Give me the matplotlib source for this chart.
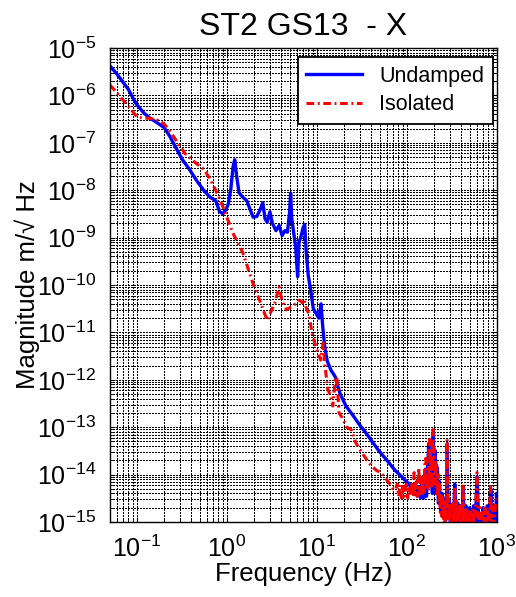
import matplotlib
matplotlib.use("Agg")
import matplotlib.pyplot as plt
from matplotlib.ticker import LogLocator, NullFormatter, FuncFormatter
import numpy as np

plt.rcParams["font.family"] = ["Liberation Sans", "DejaVu Sans"]
plt.rcParams["mathtext.fontset"] = "custom"
plt.rcParams["mathtext.rm"] = "Liberation Sans"

# Undamped (blue), magnitude in m/sqrt(Hz)
undamped_freq = [
    0.05, 0.06, 0.07, 0.08, 0.09, 0.1, 0.12, 0.14, 0.17, 0.2, 0.23, 0.27,
    0.32, 0.38, 0.46, 0.55, 0.65, 0.75, 0.83, 0.9, 0.97, 1.03, 1.1, 1.17,
    1.22, 1.28, 1.36, 1.5, 1.66, 1.8, 1.95, 2.15, 2.35, 2.5, 2.65, 2.8,
    3.0, 3.2, 3.5, 3.8, 4.1, 4.4, 4.7, 4.95, 5.1, 5.25, 5.5, 5.8, 6.1,
    6.3, 6.6, 7.0, 7.3, 7.6, 8.0, 8.5, 9.1, 9.8, 10.5, 11.1, 11.6, 12.2,
    13.0, 14.3, 16.0, 18, 21, 25, 30, 35, 41, 48, 60, 73, 88, 106,
    112, 118, 124, 130, 136, 142, 148, 154, 160, 165, 170, 175, 180, 186,
    192, 196, 200, 206, 212, 218, 224, 230, 238, 246, 254, 262, 270, 276,
    281, 286, 295, 304, 315, 328, 340, 352, 366, 380, 395, 410, 422, 435,
    455, 475, 495, 520, 550, 575, 602, 625, 660, 700, 740, 780, 830, 855,
    890, 930, 965, 990, 1000,
]
undamped_mag = [
    4.2e-6, 2.8e-6, 1.9e-6, 1.35e-6, 8.9e-7, 6.3e-7, 4.2e-7, 3.3e-7, 2.6e-7,
    2.1e-7, 1.4e-7, 7.9e-8, 4.4e-8, 2.8e-8, 1.6e-8, 1.0e-8, 7.1e-9, 6.0e-9,
    3.5e-9, 3.2e-9, 3.8e-9, 5.0e-9, 1.0e-8, 3.2e-8, 4.4e-8, 2.0e-8, 8.9e-9,
    7.1e-9, 6.0e-9, 4.0e-9, 2.7e-9, 2.8e-9, 4.0e-9, 5.4e-9, 2.5e-9, 2.1e-9,
    3.5e-9, 2.0e-9, 1.4e-9, 1.8e-9, 1.1e-9, 1.4e-9, 1.3e-9, 3.2e-9, 8.7e-9,
    2.5e-9, 1.3e-9, 6.3e-10, 1.5e-10, 7.9e-10, 1.0e-9, 1.6e-9, 1.9e-9,
    5.0e-10, 1.6e-10, 7.9e-11, 3.2e-11, 2.5e-11, 2.0e-11, 4.0e-11, 1.3e-11,
    5.0e-12, 2.5e-12, 1.6e-12, 1.15e-12, 5.2e-13, 2.8e-13, 1.8e-13, 1.1e-13,
    7.6e-14, 5.0e-14, 3.3e-14, 2.0e-14, 1.26e-14, 8.9e-15, 6.3e-15,
    5.0e-15, 4.0e-15, 4.5e-15, 3.5e-15, 5.6e-15, 3.2e-15, 6.3e-15, 3.2e-15,
    1.3e-14, 3.5e-15, 1.6e-14, 4.5e-14, 6.3e-15, 2.0e-14, 4.0e-15, 7.9e-14,
    8.9e-15, 3.2e-14, 4.0e-15, 1.4e-14, 2.5e-15, 7.1e-15, 1.6e-15, 4.0e-15,
    1.3e-15, 3.2e-15, 1.1e-15, 2.5e-15, 4.5e-14, 1.3e-15, 2.8e-15, 1.0e-15,
    2.2e-15, 9.0e-16, 6.3e-15, 1.0e-15, 2.5e-15, 9.0e-16, 2.2e-15, 9.0e-16,
    5.6e-15, 9.0e-16, 2.2e-15, 9.0e-16, 2.0e-15, 9.0e-16, 2.2e-15, 9.0e-16,
    9.0e-15, 1.3e-15, 9.0e-16, 2.0e-15, 9.0e-16, 2.2e-15, 9.0e-16, 5.0e-15,
    9.0e-16, 2.2e-15, 9.0e-16, 4.0e-15, 2.5e-15,
]

# Isolated (red)
isolated_freq = [
    0.05, 0.06, 0.07, 0.08, 0.09, 0.1, 0.12, 0.14, 0.17, 0.2, 0.23, 0.27,
    0.34, 0.4, 0.47, 0.55, 0.64, 0.75, 0.9, 1.16, 1.5, 1.94, 2.3, 2.8, 3.1,
    3.4, 3.8, 4.1, 4.6, 5.2, 5.8, 6.4, 6.9, 7.2, 7.5, 8.1, 8.8, 9.7, 10.4,
    11.0, 11.7, 12.2, 13.2, 14.3, 15.0, 16.0, 16.6, 17.6, 18.8, 21.5, 24,
    27, 32, 38, 45, 52, 62, 70,
    75, 78, 81, 84, 87, 90, 94, 98, 102, 106, 110, 114, 118, 120, 123, 127,
    131, 135, 139, 143, 147, 151, 155, 158, 162, 165, 169, 172, 175, 178,
    181, 185, 189, 192, 195, 198, 202, 206, 210, 214, 218, 222, 226, 230,
    235, 240, 245, 250, 255, 260, 265, 270, 275, 280, 284, 289, 294, 300,
    306, 312, 318, 325, 332, 340, 347, 355, 362, 370, 378, 386, 395, 405,
    415, 420, 428, 438, 448, 460, 472, 485, 500, 515, 530, 545, 560, 580,
    600, 615, 630, 650, 670, 690, 710, 735, 760, 790, 820, 850, 880, 910,
    940, 970, 1000,
]
isolated_mag = [
    1.66e-6, 1.12e-6, 7.9e-7, 6.0e-7, 4.5e-7, 3.5e-7, 3.3e-7, 3.3e-7, 3.0e-7,
    2.5e-7, 1.8e-7, 1.15e-7, 6.0e-8, 4.5e-8, 3.5e-8, 2.8e-8, 1.8e-8, 1.0e-8,
    4.5e-9, 1.26e-9, 4.8e-10, 1.1e-10, 4.8e-11, 1.8e-11, 2.8e-11, 4.2e-11,
    9.1e-11, 4.5e-11, 3.0e-11, 3.5e-11, 4.0e-11, 4.8e-11, 4.2e-11, 5.0e-11,
    3.5e-11, 2.5e-11, 1.0e-11, 5.0e-12, 3.5e-12, 2.6e-12, 6.0e-12, 2.2e-12,
    6.3e-13, 4.4e-13, 2.8e-13, 1.0e-12, 1.15e-12, 2.0e-13, 1.66e-13, 1.0e-13,
    8.9e-14, 4.7e-14, 2.8e-14, 1.74e-14, 1.26e-14, 1.07e-14, 7.1e-15, 5.0e-15,
    4.8e-15, 6.3e-15, 3.5e-15, 6.0e-15, 3.2e-15, 5.6e-15, 3.5e-15, 6.3e-15,
    3.2e-15, 5.6e-15, 3.5e-15, 6.3e-15, 3.5e-15, 1.1e-14, 4.0e-15, 7.1e-15,
    3.5e-15, 1.4e-14, 4.0e-15, 8.9e-15, 3.5e-15, 1.0e-14, 4.0e-15, 1.6e-14,
    2.2e-14, 5.0e-15, 1.1e-14, 4.5e-15, 3.5e-14, 5.6e-14, 8.9e-15, 2.5e-14,
    5.0e-15, 5.0e-14, 8.9e-14, 1.0e-14, 3.5e-14, 6.3e-15, 2.0e-14, 1.6e-14,
    3.5e-15, 1.0e-14, 2.5e-15, 6.3e-15, 1.6e-15, 4.0e-15, 1.3e-15, 3.2e-15,
    1.1e-15, 2.8e-15, 1.0e-15, 2.5e-15, 1.2e-15, 5.6e-14, 1.5e-15, 3.2e-15,
    9.0e-16, 2.5e-15, 9.0e-16, 2.0e-15, 9.0e-16, 2.5e-15, 9.0e-16, 5.6e-15,
    1.0e-15, 2.8e-15, 9.0e-16, 2.0e-15, 9.0e-16, 2.5e-15, 9.0e-16, 2.0e-15,
    9.0e-16, 6.3e-15, 9.0e-16, 2.0e-15, 9.0e-16, 2.0e-15, 9.0e-16, 1.8e-15,
    9.0e-16, 1.6e-15, 9.0e-16, 1.8e-15, 9.0e-16, 2.0e-15, 1.1e-14, 1.5e-15,
    9.0e-16, 2.0e-15, 9.0e-16, 1.6e-15, 9.0e-16, 2.0e-15, 9.0e-16, 1.8e-15,
    9.0e-16, 5.6e-15, 9.0e-16, 2.0e-15, 9.0e-16, 2.5e-15, 3.2e-15,
]


def pow10_label(v, pos):
    e = int(round(np.log10(v)))
    return r"$\mathregular{10^{%d}}$" % e


fig = plt.figure(figsize=(5.16, 5.97), dpi=100)
ax = fig.add_axes([0.213, 0.1256, 0.75, 0.794])

ax.loglog(undamped_freq, undamped_mag, color="blue", lw=2.4, label="Undamped")
ax.loglog(isolated_freq, isolated_mag, color="red", lw=2.2,
          ls=(0, (2.5, 1.2, 0.6, 1.2)), label="Isolated")

ax.set_xlim(0.05, 1000)
ax.set_ylim(1e-15, 1e-5)

ax.xaxis.set_major_locator(LogLocator(base=10, numticks=20))
ax.yaxis.set_major_locator(LogLocator(base=10, numticks=20))
ax.xaxis.set_minor_locator(LogLocator(base=10, subs=range(2, 10), numticks=50))
ax.yaxis.set_minor_locator(LogLocator(base=10, subs=range(2, 10), numticks=50))
ax.xaxis.set_major_formatter(FuncFormatter(pow10_label))
ax.yaxis.set_major_formatter(FuncFormatter(pow10_label))
ax.xaxis.set_minor_formatter(NullFormatter())
ax.yaxis.set_minor_formatter(NullFormatter())

ax.grid(True, which="both", color="black", ls=(0, (1, 1)), lw=0.8,
        antialiased=False)
ax.tick_params(which="both", direction="in", top=True, right=True)
ax.tick_params(axis="both", labelsize=18)
ax.tick_params(axis="y", pad=10)
ax.tick_params(axis="x", pad=10)
for s in ax.spines.values():
    s.set_linewidth(1.0)

ax.set_title("ST2 GS13  - X", fontsize=23, pad=9)
ax.set_xlabel("Frequency (Hz)", fontsize=18.5, labelpad=0)
ax.set_ylabel("Magnitude m/\u221a Hz", fontsize=18.5, labelpad=-2)

leg = ax.legend(loc="upper right", bbox_to_anchor=(0.99, 0.981),
                borderaxespad=0, fontsize=15.5, fancybox=False,
                framealpha=1, edgecolor="black", handlelength=2.6,
                labelspacing=0.35, borderpad=0.4)
leg.get_frame().set_linewidth(1.3)

fig.savefig("out.png", dpi=100)
